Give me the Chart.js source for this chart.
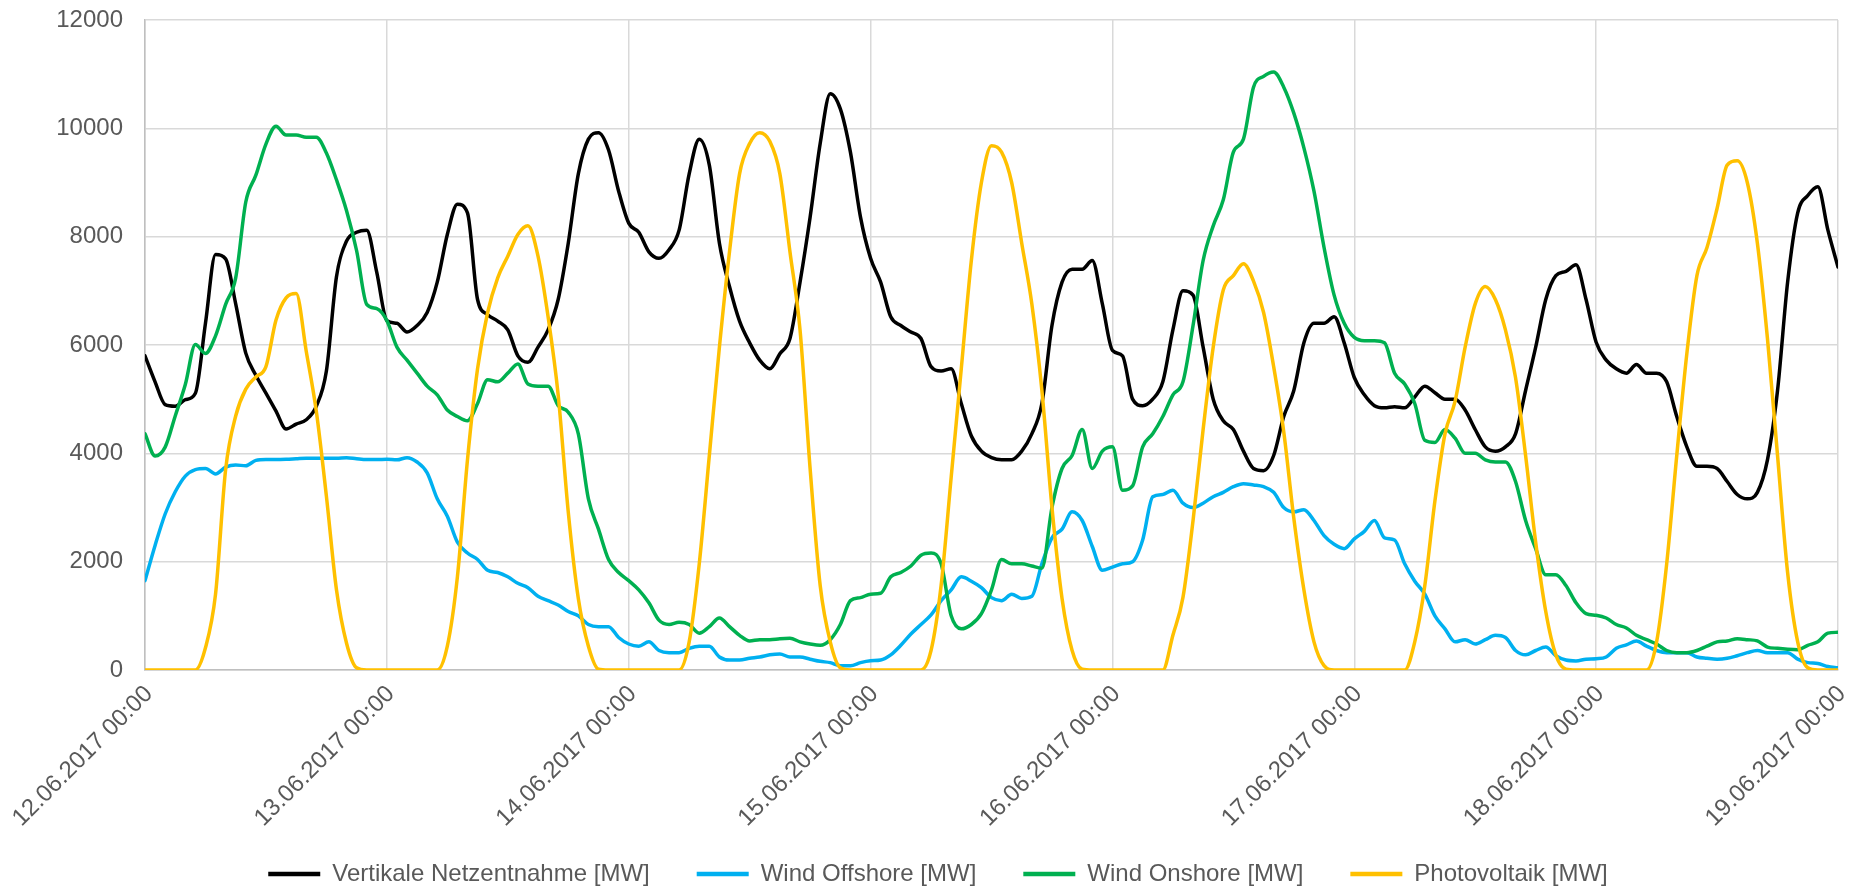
<!DOCTYPE html>
<html><head><meta charset="utf-8">
<script src="https://cdn.jsdelivr.net/npm/chart.js@4.4.1/dist/chart.umd.min.js"></script>
<style>html,body{margin:0;padding:0;background:#fff}canvas{display:block}</style>
</head><body>
<canvas id="c" width="1856" height="888"></canvas>
<script>
const dayLabels = ['12.06.2017 00:00','13.06.2017 00:00','14.06.2017 00:00','15.06.2017 00:00','16.06.2017 00:00','17.06.2017 00:00','18.06.2017 00:00','19.06.2017 00:00'];
const seriesNames = ['Vertikale Netzentnahme [MW]','Wind Offshore [MW]','Wind Onshore [MW]','Photovoltaik [MW]'];
const seriesColors = ['#000000','#00b0f0','#00b050','#ffc000'];

// hourly values, 12.06.2017 00:00 .. 19.06.2017 00:00
const netzentnahme = [
5800,5320,4900,4870,4990,5110,6400,7670,7590,6760,5850,5440,5110,4780,4450,4540,4620,4870,5520,7260,7920,8080,8120,7340,
6450,6400,6240,6360,6600,7160,8040,8600,8440,6840,6560,6440,6280,5800,5680,5960,6280,6840,7880,9160,9800,9920,9600,8840,
8250,8080,7720,7600,7760,8120,9160,9800,9320,7880,7080,6440,6040,5720,5560,5840,6120,7160,8360,9720,10640,10360,9560,8360,
7600,7160,6520,6360,6240,6120,5600,5520,5560,4920,4320,4040,3920,3880,3880,4040,4360,4920,6360,7160,7400,7400,7560,6760,
5900,5800,5000,4880,5000,5320,6280,7000,6920,5960,5000,4600,4440,4040,3720,3680,3960,4680,5160,6040,6400,6400,6520,6040,
5400,5080,4880,4840,4860,4840,5040,5240,5120,5000,5000,4800,4440,4120,4040,4120,4360,5160,5960,6840,7280,7360,7480,6840,
6050,5720,5560,5480,5640,5480,5480,5320,4680,4120,3760,3760,3720,3480,3240,3160,3280,3880,5160,7160,8440,8760,8920,8120,
7440];
const windOffshore = [
1650,2300,2880,3290,3580,3700,3720,3620,3745,3785,3770,3870,3885,3885,3890,3900,3910,3910,3910,3910,3920,3900,3885,3885,
3890,3880,3920,3840,3640,3160,2840,2360,2160,2040,1840,1800,1720,1600,1520,1360,1280,1200,1080,1000,840,800,800,600,
480,440,520,360,320,320,400,440,440,240,184,184,216,240,280,296,240,240,200,160,136,80,80,136,
170,184,280,456,664,840,1016,1280,1480,1720,1640,1520,1336,1280,1400,1320,1360,1960,2440,2600,2920,2760,2280,1840,
1900,1960,2000,2400,3200,3240,3320,3080,3000,3080,3200,3280,3384,3440,3416,3384,3280,3000,2920,2960,2760,2480,2320,2240,
2420,2560,2760,2440,2400,1960,1640,1400,1000,760,520,560,480,560,640,600,360,280,360,424,264,184,168,200,
208,240,400,464,536,440,360,320,320,320,240,216,200,216,264,320,360,320,320,320,200,136,120,64,
40];
const windOnshore = [
4360,3950,4115,4690,5270,6010,5845,6170,6750,7240,8640,9135,9710,10040,9875,9875,9835,9835,9545,9050,8480,7740,6750,6670,
6450,5960,5720,5480,5240,5080,4800,4680,4600,4920,5360,5320,5480,5650,5280,5240,5240,4880,4760,4360,3160,2600,2040,1800,
1650,1480,1240,920,840,880,840,680,800,960,800,640,536,560,560,576,584,520,480,456,560,840,1280,1336,
1400,1416,1720,1800,1920,2120,2160,1960,1000,760,840,1040,1480,2040,1960,1960,1920,1880,3000,3720,3960,4440,3720,4040,
4120,3320,3400,4120,4360,4680,5080,5320,6360,7560,8200,8680,9560,9800,10760,10960,11040,10760,10280,9640,8840,7800,6920,6400,
6140,6080,6080,6040,5480,5280,4920,4240,4200,4440,4280,4000,4000,3880,3840,3840,3480,2760,2240,1760,1760,1560,1240,1040,
1010,960,840,776,640,560,480,360,320,320,360,440,520,536,576,560,536,424,400,384,376,456,520,680,
696];
const photovoltaik = [
0,0,0,0,0,0,410,1400,3700,4690,5185,5410,5600,6460,6870,6950,5885,4775,3210,1480,495,40,0,0,
0,0,0,0,0,0,440,1720,3880,5560,6600,7240,7640,8040,8200,7640,6520,5080,2920,1320,440,16,0,0,
0,0,0,0,0,0,520,1960,3960,5960,7720,9160,9720,9920,9760,9160,7720,6280,3720,1560,520,40,0,0,
0,0,0,0,0,0,360,1560,3560,5560,7560,9000,9680,9560,9000,7880,6760,5160,3000,1320,360,16,0,0,
0,0,0,0,0,0,640,1340,2760,4440,5960,7016,7280,7500,7180,6600,5600,4400,2800,1480,520,80,0,0,
0,0,0,0,0,0,520,1560,3120,4360,4960,5960,6760,7080,6840,6280,5400,3960,2360,1080,280,16,0,0,
0,0,0,0,0,0,520,1960,3960,5840,7280,7800,8520,9320,9400,9000,7880,6120,3960,1800,520,40,0,0,
0];

const allSeries = [netzentnahme, windOffshore, windOnshore, photovoltaik];
const textColor = '#595959';
const fontFamily = '"Liberation Sans", Arial, sans-serif';

const datasets = allSeries.map((arr, i) => ({
  label: seriesNames[i],
  data: arr.map((v, h) => ({x: h, y: v})),
  borderColor: seriesColors[i],
  backgroundColor: seriesColors[i],
  pointBorderWidth: 4.5,
  order: 4 - i
}));

new Chart(document.getElementById('c'), {
  type: 'line',
  data: {datasets},
  options: {
    responsive: false,
    animation: false,
    layout: {padding: {left: 38, right: 18, top: 20, bottom: -8}},
    elements: {
      point: {radius: 0, hoverRadius: 0},
      line: {borderWidth: 3.5, cubicInterpolationMode: 'monotone', borderCapStyle: 'round', borderJoinStyle: 'round'}
    },
    plugins: {
      legend: {
        position: 'bottom',
        labels: {
          usePointStyle: true, pointStyle: 'line', pointStyleWidth: 52,
          padding: 47, color: textColor,
          font: {family: fontFamily, size: 24},
          sort: (a, b) => a.datasetIndex - b.datasetIndex
        }
      },
      tooltip: {enabled: false}
    },
    scales: {
      x: {
        type: 'linear', min: 0, max: 168,
        ticks: {
          stepSize: 24, autoSkip: false, maxRotation: 45, minRotation: 45,
          color: textColor, font: {family: fontFamily, size: 24}, padding: 10, labelOffset: 4,
          callback: v => dayLabels[v / 24]
        },
        grid: {color: '#d9d9d9', lineWidth: 1.5, drawTicks: false},
        border: {color: '#bfbfbf', width: 1.5},
        afterFit: s => {
          s.height = 145; s.paddingTop = 0; s.paddingRight = 0; s.paddingLeft = 0;
          s._computeLabelArea = () => undefined;
        }
      },
      y: {
        min: 0, max: 12000,
        ticks: {stepSize: 2000, padding: 22, color: textColor, font: {family: fontFamily, size: 24}, callback: v => String(v)},
        grid: {color: '#d9d9d9', lineWidth: 1.5, drawTicks: false},
        border: {color: '#bfbfbf', width: 1.5},
        afterFit: s => { s.width = 107; s.paddingTop = 0; }
      }
    }
  }
});
</script>
</body></html>
